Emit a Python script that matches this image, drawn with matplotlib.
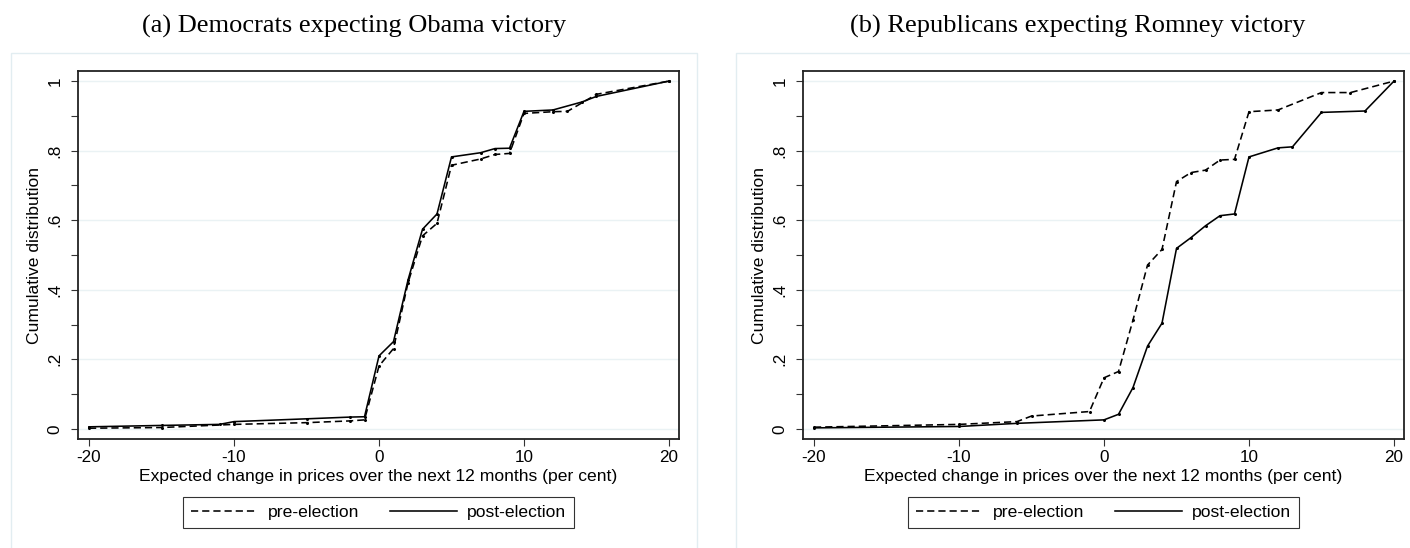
import matplotlib
matplotlib.use("Agg")
import matplotlib.pyplot as plt
from matplotlib.patches import Rectangle
from matplotlib.lines import Line2D
from matplotlib.ticker import MultipleLocator

# (a) Democrats expecting Obama victory
dem_pre_x = [-20, -15, -10, -5, -2, -1, 0, 1, 2, 3, 4, 5, 7, 8, 9, 10, 12, 13, 15, 20]
dem_pre_y = [0.002, 0.004, 0.013, 0.018, 0.023, 0.026, 0.181, 0.231, 0.42, 0.555, 0.591,
             0.758, 0.776, 0.789, 0.792, 0.907, 0.912, 0.913, 0.962, 1.0]
dem_post_x = [-20, -15, -11, -10, -5, -2, -1, 0, 1, 2, 3, 4, 5, 7, 8, 9, 10, 12, 14, 15, 20]
dem_post_y = [0.006, 0.01, 0.013, 0.021, 0.029, 0.034, 0.035, 0.21, 0.251, 0.428, 0.574, 0.618,
              0.782, 0.794, 0.806, 0.807, 0.913, 0.917, 0.94, 0.956, 1.0]

# (b) Republicans expecting Romney victory
rep_pre_x = [-20, -10, -6, -5, -1, 0, 1, 2, 3, 4, 5, 6, 7, 8, 9, 10, 12, 15, 17, 20]
rep_pre_y = [0.005, 0.013, 0.021, 0.037, 0.05, 0.147, 0.165, 0.313, 0.471, 0.516, 0.711,
             0.737, 0.744, 0.773, 0.775, 0.912, 0.917, 0.967, 0.967, 1.0]
rep_post_x = [-20, -10, -6, 0, 1, 2, 3, 4, 5, 6, 7, 8, 9, 10, 12, 13, 15, 18, 20]
rep_post_y = [0.003, 0.007, 0.016, 0.026, 0.042, 0.119, 0.238, 0.304, 0.519, 0.55, 0.584,
              0.613, 0.618, 0.782, 0.808, 0.811, 0.91, 0.914, 1.0]

titles = ["(a) Democrats expecting Obama victory", "(b) Republicans expecting Romney victory"]
xlabel = "Expected change in prices over the next 12 months (per cent)"
ylabel = "Cumulative distribution"
ytick_vals = [0, 0.2, 0.4, 0.6, 0.8, 1.0]
ytick_labels = ["0", ".2", ".4", ".6", ".8", "1"]
xtick_vals = [-20, -10, 0, 10, 20]
series_names = ["pre-election", "post-election"]

plt.rcParams["font.family"] = ["Liberation Sans", "DejaVu Sans"]

W, H = 1410, 548
fig = plt.figure(figsize=(W / 100, H / 100), dpi=100)

DASH = (4.5, 2.5)

panels = [
    (78, titles[0], dem_pre_x, dem_pre_y, dem_post_x, dem_post_y, (11, 697)),
    (803, titles[1], rep_pre_x, rep_pre_y, rep_post_x, rep_post_y, (736, 1420)),
]

for left, title, px, py, qx, qy, box in panels:
    # light graph-region border like Stata
    fig.patches.append(Rectangle((box[0] / W, -0.05), (box[1] - box[0]) / W, 1 - 53 / H + 0.05,
                                 transform=fig.transFigure, fill=False,
                                 edgecolor="#e2edf1", lw=1.0, zorder=0))
    fig.text((box[0] + box[1]) / 2 / W, 1 - 33 / H, title, ha="center", va="baseline",
             family=["Liberation Serif", "DejaVu Serif"], fontsize=19)

    ax = fig.add_axes([left / W, (H - 439) / H, 601 / W, 368 / H])
    ax.set_xlim(-20.76, 20.69)
    ax.set_ylim(-0.029, 1.029)
    for y in ytick_vals:
        ax.axhline(y, color="#eaf2f4", lw=1.0, zorder=0)

    ax.plot(px, py, color="black", lw=1.15, dashes=DASH, marker="o", markersize=1.2)
    ax.plot(qx, qy, color="black", lw=1.15, marker="o", markersize=1.2)

    ax.set_xticks(xtick_vals)
    ax.set_xticklabels([str(v) for v in xtick_vals])
    ax.set_yticks(ytick_vals)
    ax.set_yticklabels(ytick_labels, rotation=90, va="center")
    ax.yaxis.set_minor_locator(MultipleLocator(0.1))
    ax.tick_params(axis="both", which="both", direction="out", length=5, width=0.8,
                   labelsize=12.3, color="#333333")
    ax.tick_params(axis="x", pad=3)
    ax.tick_params(axis="y", pad=6)
    for s in ax.spines.values():
        s.set_linewidth(1.3)
        s.set_color("#222222")

    ax.set_xlabel(xlabel, fontsize=12.6, labelpad=3)
    ax.set_ylabel(ylabel, fontsize=12.6, labelpad=4)

    handles = [Line2D([], [], color="black", lw=1.15, dashes=DASH),
               Line2D([], [], color="black", lw=1.15)]
    leg = ax.legend(handles, series_names, loc="center", bbox_to_anchor=(0.5, -0.2), ncol=2,
                    fontsize=12.6, frameon=True, fancybox=False, handlelength=3.8,
                    handletextpad=0.6, columnspacing=1.8, borderpad=0.45)
    leg.get_frame().set_edgecolor("black")
    leg.get_frame().set_linewidth(0.8)

fig.savefig("out.png", dpi=100)
